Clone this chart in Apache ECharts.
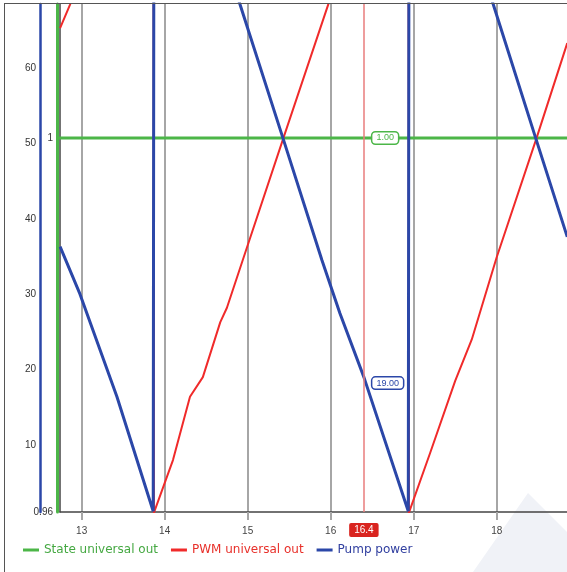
<!DOCTYPE html>
<html>
<head>
<meta charset="utf-8">
<script src="https://cdn.jsdelivr.net/npm/echarts@6/dist/echarts.min.js"></script>
<style>
html, body { margin: 0; padding: 0; background: #fff; overflow: hidden; }
.com-container { position: relative; width: 567px; height: 572px; }
.com-chart { width: 567px; height: 572px; }
/* outer frame, only left and top edges are inside the picture */
.frame {
  position: absolute; left: 4px; top: 3px; width: 700px; height: 700px;
  border-left: 1.5px solid #555; border-top: 1.5px solid #555;
  pointer-events: none;
}
</style>
</head>
<body>
<div class="com-container">
  <div class="com-chart" id="trend_ref"></div>
  <div class="frame"></div>
</div>
<script>
// time axis
const xTicks = [13, 14, 15, 16, 17, 18];
const pumpTicks = [10, 20, 30, 40, 50, 60];
const stateTicks = [0.96, 1];

// State universal out
const stateTime = [12.6, 19.1];
const stateValue = [1, 1];

// PWM universal out (sawtooth up, reset near 13.87 and 16.94)
const pwmTime = [12.74, 12.86, 13.3, 13.866, 13.87, 14.1, 14.305, 14.46, 14.67, 14.75, 14.94, 15.43, 15.97, 16.4, 16.938, 16.942, 17.2, 17.5, 17.7, 18.0, 18.48, 18.85];
const pwmValue = [65.3, 68.4, 83, 101, 1.0, 8.0, 16.4, 19.0, 26.3, 28.2, 34.5, 50.7, 68.4, 82, 100, 1.0, 9, 18.5, 24, 34.9, 50.7, 63.3];

// Pump power (sawtooth down)
const pumpTime = [12.74, 12.98, 13.425, 13.862, 13.872, 14.4, 14.909, 15.425, 15.895, 16.11, 16.4, 16.935, 16.945, 17.5, 17.96, 18.47, 18.85];
const pumpValue = [36.3, 30.0, 16.4, 1.2, 101, 85, 68.4, 50.7, 34.5, 27.5, 19.0, 1.2, 100, 84, 68.4, 50.7, 37.6];

// cursor
const cursorTime = 16.4;
const cursorState = 1.0;
const cursorPump = 19.0;

const zip = (xs, ys) => xs.map((x, i) => [x, ys[i]]);

const green = "#4cb648";
const red = "#f02a2a";
const blue = "#2b47a8";

const chartInstance = echarts.init(document.getElementById("trend_ref"));
const initOption = {
  animation: false,
  grid: { left: 60, top: 4, right: 0, bottom: 60 },
  legend: {
    left: 18,
    top: 539,
    icon: "rect",
    itemWidth: 16,
    itemHeight: 3,
    itemGap: 13,
    textStyle: { fontFamily: "DejaVu Sans", fontSize: 12 },
    data: [
      { name: "State universal out", textStyle: { color: "#45a842" } },
      { name: "PWM universal out", textStyle: { color: "#e8302a" } },
      { name: "Pump power", textStyle: { color: "#3240a0" } },
    ],
  },
  xAxis: {
    type: "value",
    min: 12.739,
    max: 18.847,
    axisLine: { onZero: false, lineStyle: { color: "#444", width: 1.5 } },
    axisTick: {
      customValues: xTicks,
      length: 8,
      lineStyle: { color: "#a6a6a6", width: 2 },
    },
    axisLabel: {
      customValues: xTicks,
      margin: 14,
      fontSize: 10,
      color: "#444",
    },
    splitLine: { show: true, lineStyle: { color: "#a6a6a6", width: 2 } },
  },
  yAxis: [
    {
      // pump power
      type: "value",
      position: "left",
      offset: 20,
      min: 1.11,
      max: 68.49,
      axisLine: { show: true, lineStyle: { color: blue, width: 2.5 } },
      axisTick: { show: false },
      splitLine: { show: false },
      axisLabel: { customValues: pumpTicks, margin: 4, fontSize: 10, color: "#333" },
    },
    {
      // state
      type: "value",
      position: "left",
      offset: 3,
      min: 0.96,
      max: 1.01433,
      axisLine: { show: true, lineStyle: { color: green, width: 3 } },
      axisTick: { show: false },
      splitLine: { show: false },
      axisLabel: { customValues: stateTicks, margin: 4, fontSize: 10, color: "#333" },
    },
    {
      // pwm
      type: "value",
      position: "left",
      offset: 0,
      min: 1.11,
      max: 68.49,
      axisLine: { show: true, lineStyle: { color: "#444", width: 1.5 } },
      axisTick: { show: false },
      splitLine: { show: false },
      axisLabel: { show: false },
    },
  ],
  graphic: [
    {
      type: "polygon",
      silent: true,
      z: -10,
      shape: { points: [[473, 572], [528, 493], [567, 532], [567, 572]] },
      style: { fill: "#f0f2f7" },
    },
  ],
  series: [
    {
      name: "State universal out",
      type: "line",
      yAxisIndex: 1,
      symbol: "none",
      data: zip(stateTime, stateValue),
      itemStyle: { color: green },
      lineStyle: { color: green, width: 3 },
      markPoint: {
        symbol: "rect",
        symbolSize: 1,
        itemStyle: { color: "transparent" },
        label: {
          show: true,
          position: "right",
          distance: 8,
          formatter: (p) => p.value.toFixed(2),
          color: green,
          fontSize: 9,
          backgroundColor: "#fff",
          borderColor: green,
          borderWidth: 1.5,
          borderRadius: 3,
          padding: [1, 4],
        },
        data: [{ coord: [cursorTime, cursorState], value: cursorState }],
      },
    },
    {
      name: "PWM universal out",
      type: "line",
      yAxisIndex: 2,
      symbol: "none",
      data: zip(pwmTime, pwmValue),
      itemStyle: { color: red },
      lineStyle: { color: red, width: 2 },
      markLine: {
        silent: true,
        symbol: "none",
        lineStyle: { color: "#e87c7c", width: 1.5, type: "solid" },
        label: {
          show: true,
          position: "start",
          distance: 11,
          formatter: String(cursorTime),
          color: "#fff",
          fontSize: 10,
          backgroundColor: "#d9241f",
          padding: [2, 5],
          borderRadius: 2,
        },
        data: [{ xAxis: cursorTime }],
      },
    },
    {
      name: "Pump power",
      type: "line",
      yAxisIndex: 0,
      symbol: "none",
      data: zip(pumpTime, pumpValue),
      itemStyle: { color: blue },
      lineStyle: { color: blue, width: 3 },
      markPoint: {
        symbol: "rect",
        symbolSize: 1,
        itemStyle: { color: "transparent" },
        label: {
          show: true,
          position: "right",
          distance: 8,
          offset: [0, 6],
          formatter: (p) => p.value.toFixed(2),
          color: blue,
          fontSize: 9,
          backgroundColor: "#fff",
          borderColor: blue,
          borderWidth: 1.5,
          borderRadius: 3,
          padding: [1, 4],
        },
        data: [{ coord: [cursorTime, cursorPump], value: cursorPump }],
      },
    },
  ],
};
chartInstance.setOption(initOption);
</script>
</body>
</html>
